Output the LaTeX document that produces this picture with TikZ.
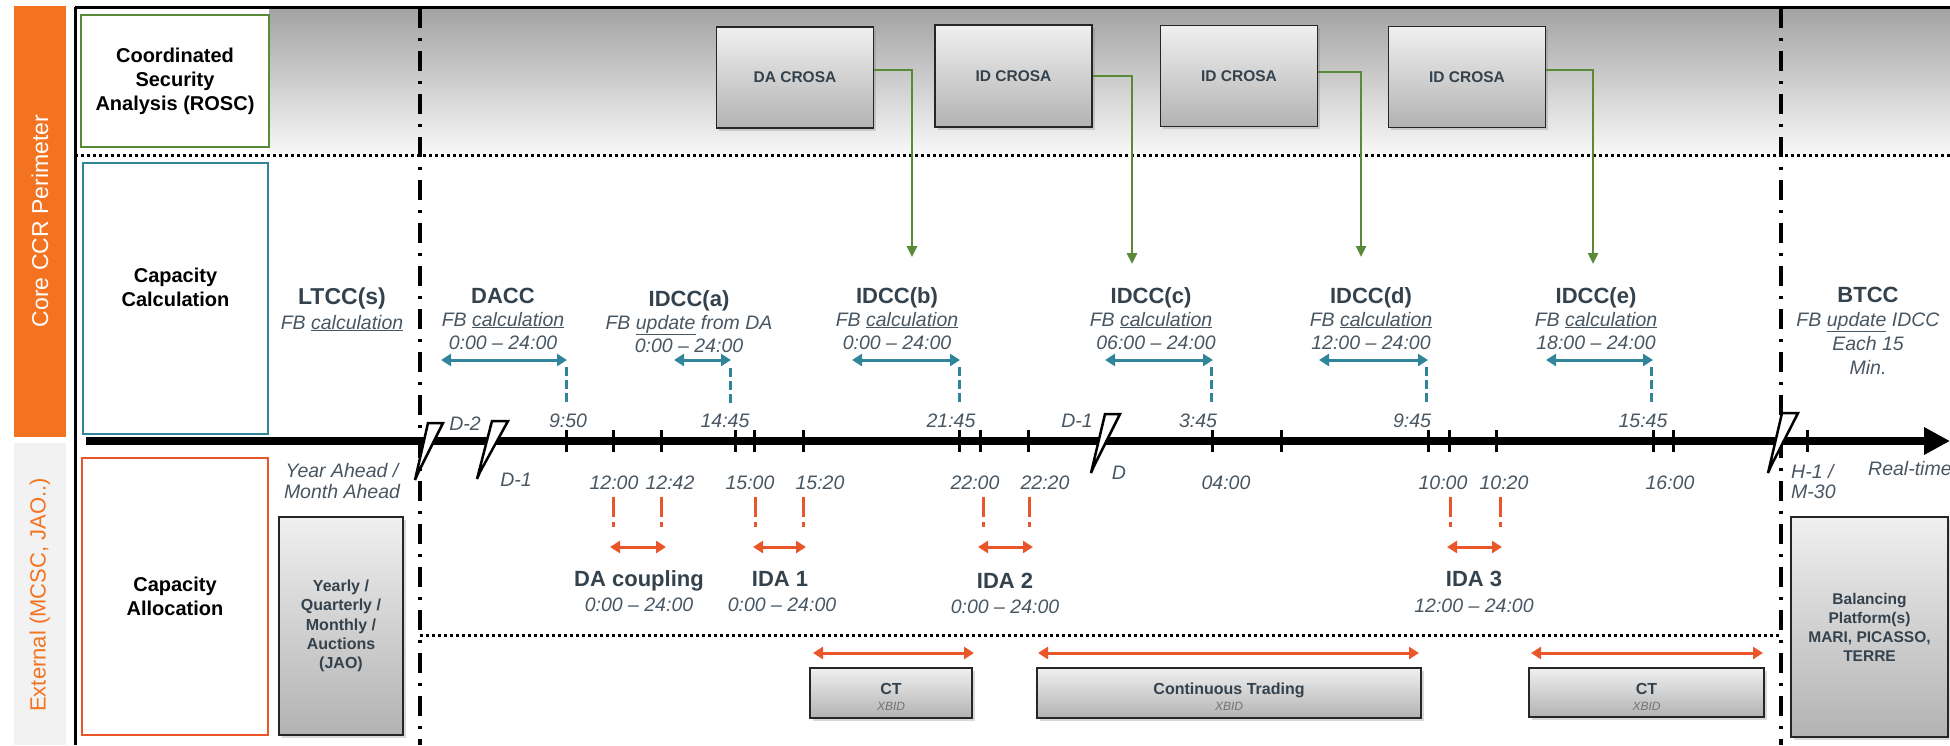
\documentclass[tikz,border=0pt]{standalone}
\usepackage{fontspec}
\setmainfont{Liberation Sans}
\usetikzlibrary{arrows.meta,shadows,calc}
\definecolor{corange}{RGB}{243,115,33}
\definecolor{aorange}{RGB}{232,86,42}
\definecolor{cteal}{RGB}{49,133,155}
\definecolor{cgreen}{RGB}{88,138,55}
\definecolor{tdark}{RGB}{52,66,77}
\definecolor{tsub}{RGB}{72,86,98}
\definecolor{lgray}{RGB}{242,242,242}
\begin{document}
\begin{tikzpicture}[x=1pt,y=-1pt,
  ttl/.style={font=\fontsize{22}{26}\selectfont\bfseries, text=tdark, anchor=base, inner sep=0pt},
  subt/.style={font=\fontsize{19.5}{22}\selectfont\itshape, text=tsub, anchor=base, inner sep=0pt},
  tmark/.style={line width=3pt},
  dashdot/.style={line width=3.5pt, dash pattern=on 20pt off 10pt on 3pt off 10pt},
  dotline/.style={line width=3pt, dash pattern=on 3pt off 3pt},
  tealarr/.style={cteal, line width=3pt, {Triangle[length=10pt,width=12pt]}-{Triangle[length=10pt,width=12pt]}},
  tealdash/.style={cteal, line width=3pt, dash pattern=on 9pt off 4pt},
  orarr/.style={aorange, line width=3pt, {Triangle[length=10pt,width=12pt]}-{Triangle[length=10pt,width=12pt]}},
  ordash/.style={aorange, line width=3pt, dash pattern=on 20pt off 5pt on 5pt off 5pt},
  grnarr/.style={cgreen, line width=2.5pt, -{Triangle[length=11pt,width=10pt]}},
  graybox/.style={draw=black!85, line width=1.8pt, top color=black!6, bottom color=black!30,
     drop shadow={opacity=0.3, shadow xshift=2.5pt, shadow yshift=-2.5pt}, inner sep=0pt},
  boxtext/.style={font=\fontsize{15.5}{19}\selectfont\bfseries, text=tdark, align=center},
  labelbox/.style={line width=2.5pt, fill=white, inner sep=0pt},
  headtext/.style={font=\fontsize{20}{24}\selectfont\bfseries, text=black, align=center, inner sep=0pt},
  brkshape/.style={fill=white, draw=black, line width=2.5pt, line join=miter},
  ctt/.style={font=\fontsize{16}{18}\selectfont\bfseries, text=tdark, anchor=base, inner sep=0pt},
  xbid/.style={font=\fontsize{12}{14}\selectfont\itshape, text=black!55, anchor=base, inner sep=0pt}
]
\useasboundingbox (0,0) rectangle (1950,745);

% side bars
\fill[corange] (14,6) rectangle (66,437);
\fill[lgray] (14,443) rectangle (66,745);
\node[rotate=90, text=white, font=\fontsize{23}{26}\selectfont] (core) at (40,221) {Core CCR Perimeter};
\node[rotate=90, text=corange, font=\fontsize{22}{26}\selectfont] (ext) at (40,595) {External (MCSC, JAO..)};

% top gradient band
\shade[top color=black!36, bottom color=black!3] (269,9) rectangle (1950,153);

% frame
\draw[line width=3pt] (75,7) -- (1950,7);
\draw[line width=3pt] (75,7) -- (75,745);
\draw[dotline] (75,155) -- (1950,155);
\draw[dotline] (420,635) -- (1781,635);

% dash-dot separators
\draw[dashdot] (420,8) -- (420,745);
\draw[dashdot] (1781,8) -- (1781,745);

% row headers
\node[labelbox, draw=cgreen, minimum width=188pt, minimum height=132pt, headtext] (rosc) at (175,81) {Coordinated\\Security\\Analysis (ROSC)};
\node[labelbox, draw=cteal, minimum width=185pt, minimum height=271pt] (ccbox) at (175.5,298.5) {};
\node[headtext] (cctext) at (175.5,287) {Capacity\\Calculation};
\node[labelbox, draw=aorange, minimum width=186pt, minimum height=277pt, headtext] (cabox) at (175,596.5) {Capacity\\Allocation};

% CROSA boxes
\node[graybox, minimum width=157pt, minimum height=101pt, boxtext] (crosa1) at (795,77.5) {DA CROSA};
\node[graybox, minimum width=157pt, minimum height=102pt, boxtext] (crosa2) at (1013.5,76) {ID CROSA};
\node[graybox, minimum width=157pt, minimum height=101pt, boxtext] (crosa3) at (1239,76) {ID CROSA};
\node[graybox, minimum width=157pt, minimum height=101pt, boxtext] (crosa4) at (1467,77) {ID CROSA};

% other gray boxes
\node[graybox, minimum width=124pt, minimum height=218pt, font=\fontsize{16}{19.2}\selectfont\bfseries, text=tdark, align=center] (yearly) at (341,626) {Yearly /\\Quarterly /\\Monthly /\\Auctions\\(JAO)};
\node[graybox, minimum width=157pt, minimum height=220pt, font=\fontsize{15.5}{19}\selectfont\bfseries, text=tdark, align=center] (bal) at (1869.5,627) {Balancing\\Platform(s)\\MARI, PICASSO,\\TERRE};
\node[graybox, minimum width=162pt, minimum height=50pt] (ct1) at (891,693) {};
\node[graybox, minimum width=384pt, minimum height=50pt] (ctr) at (1229,693) {};
\node[graybox, minimum width=235pt, minimum height=49pt] (ct2) at (1646.5,692.5) {};
\node[ctt] (ct1a) at (891,694) {CT};
\node[xbid] (ct1b) at (891,710) {XBID};
\node[ctt] (ctra) at (1229,694) {Continuous Trading};
\node[xbid] (ctrb) at (1229,710) {XBID};
\node[ctt] (ct2a) at (1646.5,694) {CT};
\node[xbid] (ct2b) at (1646.5,710) {XBID};

% timeline
\coordinate (tlstart) at (86,441);
\coordinate (tlend) at (1950,441);
\draw[line width=8pt, -{Triangle[length=26pt,width=26pt]}] (tlstart) -- (tlend);
\foreach \x in {566,613,661,735,754,803,959,980,1028,1212,1281,1428,1449,1496,1653,1673,1807}
  \draw[tmark] (\x,430) -- (\x,452);
% breaks
\draw[brkshape] (428,423) -- (443,423) -- (418,473) -- (415,480) -- cycle;
\draw[brkshape] (492,421) -- (508,421) -- (480,472) -- (477,479) -- cycle;
\draw[brkshape] (1105,414) -- (1120,414) -- (1094,466) -- (1091,473) -- cycle;
\draw[brkshape] (1782,413) -- (1798,413) -- (1771,466) -- (1768,473) -- cycle;

% green connectors
\coordinate (g1) at (912,257);
\coordinate (g2) at (1132,264);
\coordinate (g3) at (1361,257);
\coordinate (g4) at (1593,264);
\draw[grnarr] (crosa1.east |- 0,70) -| (g1);
\draw[grnarr] (crosa2.east |- 0,76) -| (g2);
\draw[grnarr] (crosa3.east |- 0,72) -| (g3);
\draw[grnarr] (crosa4.east |- 0,70) -| (g4);

% upper labels
\node[ttl, font=\fontsize{23}{26}\selectfont\bfseries] (ltcc) at (342,304) {LTCC(s)};
\node[subt] (ltcc2) at (342,329) {FB \underline{calculation}};

\node[ttl] (dacc) at (503,303) {DACC};
\node[subt] (dacc2) at (503,326) {FB \underline{calculation}};
\node[subt] (dacc3) at (503,349) {0:00 – 24:00};

\node[ttl] (ia) at (689,306) {IDCC(a)};
\node[subt] (ia2) at (689,329) {FB \underline{update} from DA};
\node[subt] (ia3) at (689,352) {0:00 – 24:00};

\node[ttl] (ib) at (897,303) {IDCC(b)};
\node[subt] (ib2) at (897,326) {FB \underline{calculation}};
\node[subt] (ib3) at (897,349) {0:00 – 24:00};

\node[ttl] (ic) at (1151,303) {IDCC(c)};
\node[subt] (ic2) at (1151,326) {FB \underline{calculation}};
\node[subt] (ic3) at (1156,349) {06:00 – 24:00};

\node[ttl] (id) at (1371,303) {IDCC(d)};
\node[subt] (id2) at (1371,326) {FB \underline{calculation}};
\node[subt] (id3) at (1371,349) {12:00 – 24:00};

\node[ttl] (ie) at (1596,303) {IDCC(e)};
\node[subt] (ie2) at (1596,326) {FB \underline{calculation}};
\node[subt] (ie3) at (1596,349) {18:00 – 24:00};

\node[ttl] (btcc) at (1868,302) {BTCC};
\node[subt] (btcc2) at (1868,326) {FB \underline{update} IDCC};
\node[subt] (btcc3) at (1868,350) {Each 15};
\node[subt] (btcc4) at (1868,374) {Min.};

% teal arrows and dashes
\draw[tealarr] (441,360) -- (567,360);
\draw[tealdash] (566,367) -- (566,403);
\draw[tealarr] (674,360) -- (731,360);
\draw[tealdash] (730,368) -- (730,406);
\draw[tealarr] (852,360) -- (960,360);
\draw[tealdash] (959,367) -- (959,403);
\draw[tealarr] (1105,360) -- (1213,360);
\draw[tealdash] (1211,367) -- (1211,403);
\draw[tealarr] (1319,360) -- (1428,360);
\draw[tealdash] (1426,367) -- (1426,403);
\draw[tealarr] (1546,360) -- (1653,360);
\draw[tealdash] (1651,367) -- (1651,403);

% timeline labels above
\node[subt] (t950) at (568,427) {9:50};
\node[subt] (t1445) at (725,427) {14:45};
\node[subt] (t2145) at (951,427) {21:45};
\node[subt] (t345) at (1198,427) {3:45};
\node[subt] (t945) at (1412,427) {9:45};
\node[subt] (t1545) at (1643,427) {15:45};
\node[subt] (dm2) at (465,430) {D-2};
\node[subt] (dm1b) at (1077,427) {D-1};
% below
\node[subt] (dm1) at (516,486) {D-1};
\node[subt] (dd) at (1119,479) {D};
\node[subt] (t1200) at (614,489) {12:00};
\node[subt] (t1242) at (670,489) {12:42};
\node[subt] (t1500) at (750,489) {15:00};
\node[subt] (t1520) at (820,489) {15:20};
\node[subt] (t2200) at (975,489) {22:00};
\node[subt] (t2220) at (1045,489) {22:20};
\node[subt] (t0400) at (1226,489) {04:00};
\node[subt] (t1000) at (1443,489) {10:00};
\node[subt] (t1020) at (1504,489) {10:20};
\node[subt] (t1600) at (1670,489) {16:00};
\node[subt, anchor=base west] (h1) at (1791,478) {H-1 /};
\node[subt, anchor=base west] (m30) at (1791,498) {M-30};
\node[subt, anchor=base west] (rt) at (1868,475) {Real-time};
\node[subt] (ya) at (342,477) {Year Ahead /};
\node[subt] (ma) at (342,498) {Month Ahead};

% allocation markers
\foreach \x in {613,661,755,803,983,1029,1450,1500}
  \draw[ordash] (\x,497) -- (\x,531);
\draw[orarr] (610,547) -- (666,547);
\draw[orarr] (753,547) -- (806,547);
\draw[orarr] (978,547) -- (1033,547);
\draw[orarr] (1447,547) -- (1502,547);
\draw[orarr] (813,653) -- (974,653);
\draw[orarr] (1038,653) -- (1419,653);
\draw[orarr] (1531,653) -- (1763,653);

\node[ttl] (dac) at (639,586) {DA coupling};
\node[subt] (dac2) at (639,611) {0:00 – 24:00};
\node[ttl] (ida1) at (780,586) {IDA 1};
\node[subt] (ida1b) at (782,611) {0:00 – 24:00};
\node[ttl] (ida2) at (1005,588) {IDA 2};
\node[subt] (ida2b) at (1005,613) {0:00 – 24:00};
\node[ttl] (ida3) at (1474,586) {IDA 3};
\node[subt] (ida3b) at (1474,612) {12:00 – 24:00};
\end{tikzpicture}
\end{document}
